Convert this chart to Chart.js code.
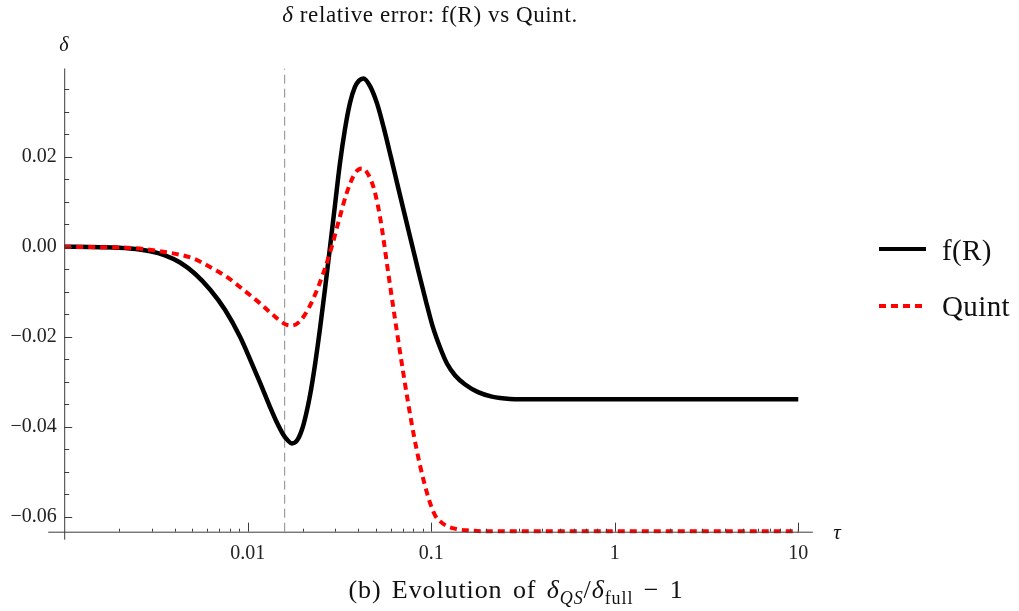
<!DOCTYPE html>
<html>
<head>
<meta charset="utf-8">
<script src="https://cdn.jsdelivr.net/npm/chart.js@4.4.1/dist/chart.umd.min.js"></script>
<style>
  html, body { margin: 0; padding: 0; background: #fff; }
  #wrap { position: relative; width: 1019px; height: 611px; font-family: "Liberation Serif", serif; color: #111; overflow: hidden; }
  #grafico { position: absolute; left: 0; top: 0; }
  .lbl { position: absolute; white-space: nowrap; line-height: 1; transform: translate(-50%, -50%); }
  .esq { position: absolute; white-space: nowrap; line-height: 1; transform: translate(0, -50%); }
  .linha { position: absolute; height: 4px; transform: translate(0, -50%); }
</style>
</head>
<body>
<div id="wrap">
  <canvas id="grafico" width="1019" height="611"></canvas>

  <!-- textos -->
  <div class="lbl" style="left:430px; top:14px; font-size:23px; letter-spacing:0.6px;"><i>δ</i> relative error: f(R) vs Quint.</div>
  <div class="lbl" style="left:64px; top:44px; font-size:20px;"><i>δ</i></div>
  <div class="lbl" style="left:837px; top:532px; font-size:21px;"><i>τ</i></div>
  <div class="lbl" style="left:516px; top:592px; font-size:26px; letter-spacing:0.9px; word-spacing:3px;">(b) Evolution of <i>δ</i><sub style="font-size:18px"><i>QS</i></sub>/<i>δ</i><sub style="font-size:18px">full</sub> − 1</div>

  <!-- legenda -->
  <div class="linha" style="left:879px; top:249px; width:47px; background:#000;"></div>
  <div class="esq" style="left:942px; top:250px; font-size:29px; letter-spacing:0.4px;">f(R)</div>
  <div class="linha" style="left:879px; top:306px; width:44px; background:repeating-linear-gradient(90deg, #ff0000 0 7px, transparent 7px 12px);"></div>
  <div class="esq" style="left:942px; top:306px; font-size:29px; letter-spacing:0.4px;">Quint</div>
</div>

<script>
// Dados (tau em escala log, delta = erro relativo)
const tauFR = [0.001, 0.00157, 0.00228, 0.00294, 0.00354, 0.00428, 0.00516, 0.00623, 0.00752, 0.00908,
               0.0103, 0.0117, 0.0132, 0.0144, 0.0156, 0.0166, 0.0174, 0.0186, 0.0198, 0.0208,
               0.0219, 0.0233, 0.0248, 0.0264, 0.0281, 0.0299, 0.0318, 0.0339, 0.0361, 0.0384,
               0.0404, 0.0427, 0.0464, 0.0507, 0.0553, 0.0604, 0.0659, 0.0720, 0.0786, 0.0858,
               0.0937, 0.102, 0.112, 0.122, 0.135, 0.153, 0.180, 0.214, 0.269, 0.368, 2.91, 10];
const deltaFR = [0, -0.0001, -0.0004, -0.0010, -0.0019, -0.0035, -0.0060, -0.0095, -0.0140, -0.0200,
                 -0.0250, -0.0303, -0.0355, -0.0390, -0.0417, -0.0431, -0.0437, -0.0430, -0.0405, -0.0372,
                 -0.0328, -0.0260, -0.0180, -0.0092, 0.0000, 0.0093, 0.0185, 0.0262, 0.0320, 0.0355,
                 0.0369, 0.0374, 0.0357, 0.0318, 0.0262, 0.0198, 0.0133, 0.0068, 0.0004, -0.0060,
                 -0.0122, -0.0178, -0.0225, -0.0260, -0.0286, -0.0306, -0.0323, -0.0333, -0.0338, -0.0339, -0.0339, -0.0339];

const tauQuint = [0.001, 0.00157, 0.00219, 0.00333, 0.00505, 0.00623, 0.00769, 0.00943, 0.0117, 0.0136,
                  0.0160, 0.0174, 0.0193, 0.0219, 0.0239, 0.0258, 0.0287, 0.0318, 0.0346, 0.0384,
                  0.0418, 0.0447, 0.0484, 0.0513, 0.0537, 0.0584, 0.0648, 0.0704, 0.0747, 0.0798,
                  0.0868, 0.0945, 0.0997, 0.105, 0.112, 0.121, 0.137, 0.156, 0.2005, 10];
const deltaQuint = [0, -0.0001, -0.0002, -0.0010, -0.0026, -0.0045, -0.0067, -0.0095, -0.0126, -0.0150,
                    -0.0172, -0.0175, -0.0165, -0.0130, -0.0095, -0.0059, 0, 0.0067, 0.0119, 0.0163,
                    0.0174, 0.0165, 0.0133, 0.0090, 0.0044, -0.0060, -0.0185, -0.0280, -0.0345, -0.0412,
                    -0.0485, -0.0545, -0.0575, -0.0597, -0.0610, -0.0620, -0.0627, -0.0630, -0.0632, -0.0632];

// linha vertical tracejada
const tauMarca = 0.0159;

// ticks
const ticksX = [0.01, 0.1, 1, 10];
const ticksY = [-0.06, -0.04, -0.02, 0, 0.02];
const limX = [0.001, 12];
const limY = [-0.0633, 0.0396];

const corEixo = '#3c3c3c';

// Desenha os eixos no estilo Mathematica (ticks para dentro)
const eixosPlugin = {
    id: 'eixos',
    afterDatasetsDraw(chart) {
        const { ctx, chartArea: a, scales: { x, y } } = chart;
        ctx.save();
        ctx.strokeStyle = corEixo;
        ctx.lineWidth = 1;
        ctx.beginPath();
        // eixo x
        ctx.moveTo(a.left - 16, a.bottom + 0.5);
        ctx.lineTo(a.right, a.bottom + 0.5);
        // eixo y
        ctx.moveTo(a.left + 0.5, a.top);
        ctx.lineTo(a.left + 0.5, a.bottom + 8);
        ctx.stroke();

        ctx.beginPath();
        // ticks x
        for (let d = -3; d <= 1; d++) {
            for (let k = 1; k <= 9; k++) {
                const v = k * Math.pow(10, d);
                if (v <= limX[0] || v > limX[1]) continue;
                const px = Math.round(x.getPixelForValue(v)) + 0.5;
                const len = k === 1 ? 9 : 3;
                ctx.moveTo(px, a.bottom);
                ctx.lineTo(px, a.bottom - len);
            }
        }
        // ticks y
        for (let i = -12; i <= 7; i++) {
            const v = i * 0.005;
            if (v < limY[0] || v > limY[1]) continue;
            const py = Math.round(y.getPixelForValue(v)) + 0.5;
            const len = i % 4 === 0 ? 8 : 5;
            ctx.moveTo(a.left, py);
            ctx.lineTo(a.left + len, py);
        }
        ctx.stroke();
        ctx.restore();
    }
};

function formatoY(v) {
    if (Math.abs(v) < 1e-9) return '0.00';
    return (v < 0 ? '\u2212' : '') + Math.abs(v).toFixed(2);
}

function initChart() {
    const ctx = document.getElementById('grafico').getContext('2d');

    new Chart(ctx, {
        type: 'line',
        data: {
            datasets: [
                {
                    label: 'Quint',
                    data: tauQuint.map((t, i) => ({ x: t, y: deltaQuint[i] })),
                    borderColor: '#ff0000',
                    borderWidth: 4,
                    borderDash: [7, 5],
                    borderCapStyle: 'butt',
                    pointRadius: 0,
                    cubicInterpolationMode: 'monotone',
                    clip: false,
                    order: 0
                },
                {
                    label: 'f(R)',
                    data: tauFR.map((t, i) => ({ x: t, y: deltaFR[i] })),
                    borderColor: '#000000',
                    borderWidth: 4.5,
                    pointRadius: 0,
                    cubicInterpolationMode: 'monotone',
                    clip: false,
                    order: 1
                },
                {
                    label: 'marca',
                    data: [{ x: tauMarca, y: limY[0] }, { x: tauMarca, y: limY[1] }],
                    borderColor: '#8a8a8a',
                    borderWidth: 1,
                    borderDash: [9, 5],
                    pointRadius: 0,
                    order: 2
                }
            ]
        },
        options: {
            responsive: false,
            animation: false,
            layout: {
                padding: { top: 68.5, right: 206.2, bottom: 39.3, left: 0 }
            },
            scales: {
                x: {
                    type: 'logarithmic',
                    min: limX[0],
                    max: limX[1],
                    border: { display: false },
                    grid: { display: false, drawTicks: false },
                    ticks: {
                        padding: 10,
                        color: '#222',
                        maxRotation: 0,
                        autoSkip: false,
                        font: { family: 'Liberation Serif', size: 20 },
                        callback: v => String(v)
                    },
                    afterBuildTicks: s => { s.ticks = ticksX.map(v => ({ value: v })); },
                    afterFit: s => { s.height = 40; }
                },
                y: {
                    type: 'linear',
                    min: limY[0],
                    max: limY[1],
                    border: { display: false },
                    grid: { display: false, drawTicks: false },
                    ticks: {
                        padding: 7.5,
                        color: '#222',
                        font: { family: 'Liberation Serif', size: 20 },
                        callback: v => formatoY(v)
                    },
                    afterBuildTicks: s => { s.ticks = ticksY.map(v => ({ value: v })); },
                    afterFit: s => { s.width = 64.2; }
                }
            },
            plugins: {
                legend: { display: false },
                tooltip: { enabled: false }
            }
        },
        plugins: [eixosPlugin]
    });
}

document.addEventListener('DOMContentLoaded', initChart);
</script>
</body>
</html>
